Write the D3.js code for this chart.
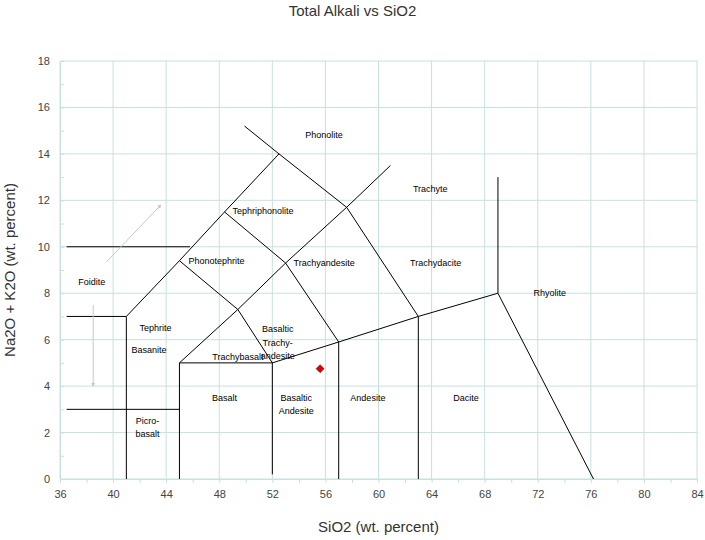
<!DOCTYPE html>
<html><head><meta charset="utf-8">
<script src="https://cdn.jsdelivr.net/npm/d3@7"></script>
<style>body{margin:0;background:#fff;font-family:"Liberation Sans",Arial,sans-serif}</style>
</head><body><div id="chart"></div>
<script>
// TAS boundary lines, each a polyline of [SiO2, alkali]
const boundaries = [
  [[36.5,3],[45,3]],
  [[36.5,7],[41,7]],
  [[36.5,10],[45.8,10]],
  [[41,0],[41,7],[45,9.4],[48.4,11.5],[52.5,14],[49.9,15.2]],
  [[45,0],[45,5],[52,5],[57,5.9],[63,7],[69,8],[76.2,0]],
  [[52,0.2],[52,5]],
  [[57,0],[57,5.9]],
  [[63,0],[63,7]],
  [[69,8],[69,13]],
  [[45,5],[49.4,7.3],[53,9.3],[57.6,11.7],[60.9,13.5]],
  [[49.4,7.3],[52,5]],
  [[45,9.4],[49.4,7.3]],
  [[48.4,11.5],[53,9.3]],
  [[53,9.3],[57,5.9]],
  [[52.5,14],[57.6,11.7],[63,7]]
];
const fieldNames = ["Phonolite","Trachyte","Tephriphonolite","Trachyandesite","Trachydacite","Phonotephrite",
  "Foidite","Rhyolite","Basaltic|Trachy-|andesite","Tephrite","Basanite","Trachybasalt","Basalt",
  "Basaltic|Andesite","Andesite","Dacite","Picro-|basalt"];
const fieldX = [55.9,63.9,51.3,55.9,64.3,47.8,38.4,72.9,52.4,43.2,42.7,49.4,48.4,53.8,59.2,66.6,42.6];
const fieldY = [14.8,12.5,11.55,9.3,9.3,9.4,8.5,8.0,6.45,6.5,5.55,5.25,3.5,3.5,3.5,3.5,2.5];
const sampleSiO2 = [55.6];
const sampleAlk = [4.75];
const arrows = [[[39.5,9.35],[43.6,11.8]],[[38.5,7.5],[38.5,4.0]]];
const xTicks = [36,40,44,48,52,56,60,64,68,72,76,80,84];
const yTicks = [0,2,4,6,8,10,12,14,16,18];

const W=705,H=540, m={l:60,r:8,t:61,b:61};
const x=d3.scaleLinear().domain([36,84]).range([m.l,W-m.r]);
const y=d3.scaleLinear().domain([0,18]).range([H-m.b,m.t]);
const svg=d3.select('#chart').append('svg').attr('width',W).attr('height',H);
const defs=svg.append('defs');
defs.append('marker').attr('id','ah').attr('viewBox','0 0 10 10').attr('refX',8).attr('refY',5)
  .attr('markerWidth',4).attr('markerHeight',4).attr('orient','auto')
  .append('path').attr('d','M0,0L10,5L0,10z').attr('fill','#c8c8c8');

// grid
svg.append('g').selectAll('line').data(xTicks).join('line')
  .attr('x1',d=>x(d)).attr('x2',d=>x(d)).attr('y1',y(0)).attr('y2',y(18)).attr('stroke','#c7e0e0');
svg.append('g').selectAll('line').data(yTicks).join('line')
  .attr('x1',x(36)).attr('x2',x(84)).attr('y1',d=>y(d)).attr('y2',d=>y(d)).attr('stroke','#c7e0e0');

const xa=svg.append('g').attr('transform',`translate(0,${y(0)})`)
  .call(d3.axisBottom(x).tickValues(d3.range(36,85,2)).tickSize(4).tickFormat(d=>d%4===0?d:''));
const ya=svg.append('g').attr('transform',`translate(${x(36)},0)`)
  .call(d3.axisLeft(y).tickValues(d3.range(0,19,1)).tickSize(-4).tickFormat(d=>d%2===0?d:''));
[xa,ya].forEach(a=>{a.select('.domain').attr('stroke','#c7e0e0');
  a.selectAll('line').attr('stroke','#c7e0e0');
  a.selectAll('text').attr('font-size',11).attr('fill','#444').attr('font-family','Liberation Sans, Arial');});
xa.selectAll('text').attr('dy','1.1em');
ya.selectAll('text').attr('x',-10);

const line=d3.line().x(d=>x(d[0])).y(d=>y(d[1]));
svg.append('g').selectAll('path').data(boundaries).join('path')
  .attr('d',line).attr('fill','none').attr('stroke','#000').attr('stroke-width',1);

svg.append('g').selectAll('line').data(arrows).join('line')
  .attr('x1',d=>x(d[0][0])).attr('y1',d=>y(d[0][1])).attr('x2',d=>x(d[1][0])).attr('y2',d=>y(d[1][1]))
  .attr('stroke','#c8c8c8').attr('stroke-width',1).attr('marker-end','url(#ah)');

const lab=svg.append('g').attr('font-size',9).attr('font-family','Liberation Sans, Arial').attr('fill','#000');
fieldNames.forEach((n,i)=>{
  const parts=n.split('|');
  const t=lab.append('text').attr('text-anchor','middle').attr('x',x(fieldX[i])).attr('y',y(fieldY[i])+3);
  parts.forEach((p,j)=>t.append('tspan').attr('x',x(fieldX[i])).attr('dy',j?'1.5em':0).text(p));
});

svg.append('g').selectAll('path').data(sampleSiO2).join('path')
  .attr('transform',(d,i)=>`translate(${x(d)},${y(sampleAlk[i])})`)
  .attr('d',d3.symbol(d3.symbolDiamond2,40)).attr('fill','#e00000').attr('stroke','#600').attr('stroke-width',0.6);

svg.append('text').attr('x',W/2).attr('y',16).attr('text-anchor','middle').attr('font-size',15)
  .attr('fill','#333').text('Total Alkali vs SiO2');
svg.append('text').attr('x',x(60)).attr('y',532).attr('text-anchor','middle').attr('font-size',15)
  .attr('fill','#333').text('SiO2 (wt. percent)');
svg.append('text').attr('transform',`translate(15,${y(9)}) rotate(-90)`).attr('text-anchor','middle')
  .attr('font-size',15).attr('fill','#333').text('Na2O + K2O (wt. percent)');
</script></body></html>
